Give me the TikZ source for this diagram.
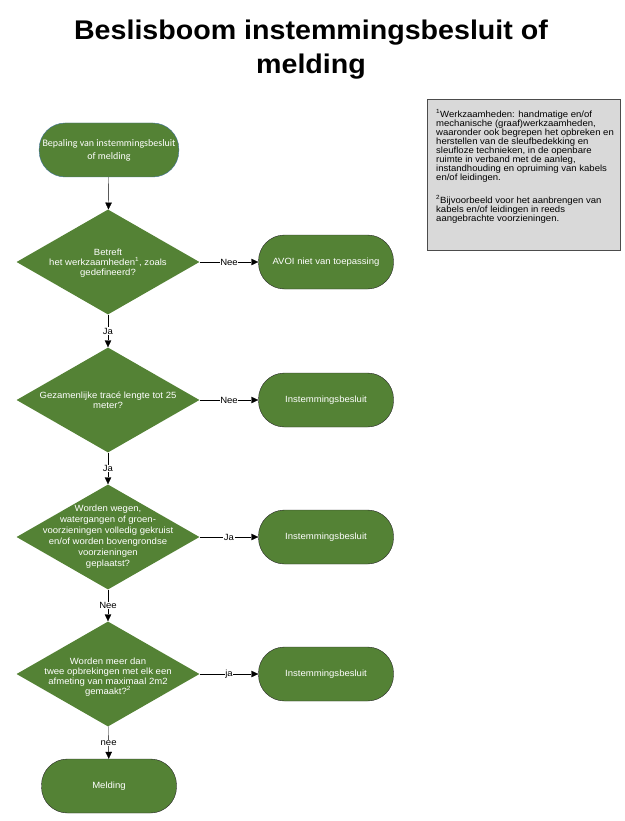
\documentclass[tikz,border=0pt]{standalone}
\usepackage{fontspec}
\setmainfont[FakeStretch=1.06]{Liberation Sans}
\newfontfamily\calibri{Carlito}
\usetikzlibrary{arrows.meta,shapes.geometric,shadows}
\definecolor{boxgreen}{RGB}{84,130,53}
\definecolor{startblue}{RGB}{65,113,156}
\definecolor{notegray}{RGB}{217,217,217}

\begin{document}
\begin{tikzpicture}[x=1pt,y=-1pt,>={Triangle[length=7pt,width=6.5pt]},
	decision/.style={shape=diamond,fill=boxgreen,minimum width=183pt,minimum height=105pt,inner sep=0pt},
	qtext/.style={text=white,align=center,font=\fontsize{9}{10}\selectfont},
	terminal/.style={shape=rectangle,rounded corners=26pt,fill=boxgreen,draw=black!85,minimum width=135pt,minimum height=54pt,text=white,align=center,font=\fontsize{9}{10}\selectfont},
	answer/.style={fill=white,inner sep=0.6pt,font=\fontsize{9}{10}\selectfont}]
	\useasboundingbox (0,0) rectangle (624,821);

	\node (title) [align=center,anchor=north,font=\fontsize{27}{34}\selectfont\bfseries] at (311,16) {Beslisboom instemmingsbesluit of\\melding};

	% start
	\node (start) [terminal,draw=startblue,font=\calibri\fontsize{10}{13}\selectfont] at (109,150) {Bepaling van instemmingsbesluit\\of melding};

	% vragen
	\node (q1) [decision] at (108,262) {};
	\node (q1text) [qtext] at (108,263) {Betreft\\het werkzaamheden\textsuperscript{1}, zoals\\gedefineerd?};
	\node (q2) [decision] at (108,400) {};
	\node (q2text) [qtext] at (q2) {Gezamenlijke trac\'e lengte tot 25\\meter?};
	\node (q3) [decision] at (108,537) {};
	\node (q3text) [qtext,font=\fontsize{9}{11}\selectfont] at (q3) {Worden wegen,\\watergangen of groen-\\voorzieningen volledig gekruist\\en/of worden bovengrondse\\voorzieningen\\geplaatst?};
	\node (q4) [decision] at (108,674) {};
	\node (q4text) [qtext] at (108,677) {Worden meer dan\\twee opbrekingen met elk een\\afmeting van maximaal 2m2\\gemaakt?\textsuperscript{2}};

	% uitkomsten
	\node (r1) [terminal] at (326,262) {AVOI niet van toepassing};
	\node (r2) [terminal] at (326,400) {Instemmingsbesluit};
	\node (r3) [terminal] at (326,537) {Instemmingsbesluit};
	\node (r4) [terminal] at (326,674) {Instemmingsbesluit};
	\node (end) [terminal] at (109,786) {Melding};

	% voetnoten
	\node (note) [shape=rectangle,draw=black!70,fill=notegray,line width=0.8pt,minimum width=193pt,minimum height=151pt,anchor=north west,
		drop shadow={shadow xshift=1pt,shadow yshift=-1pt,fill=black!60,opacity=1}] at (427,99) {};
	\node (notetext) [anchor=north west,inner sep=0pt,align=left,font=\fontsize{9}{9}\selectfont] at (436,109) {\textsuperscript{1}Werkzaamheden: handmatige en/of\\mechanische (graaf)werkzaamheden,\\waaronder ook begrepen het opbreken en\\herstellen van de sleufbedekking en\\sleufloze technieken, in de openbare\\ruimte in verband met de aanleg,\\instandhouding en opruiming van kabels\\en/of leidingen.\\[12pt]\textsuperscript{2}Bijvoorbeeld voor het aanbrengen van\\kabels en/of leidingen in reeds\\aangebrachte voorzieningen.};

	% verbindingen
	\draw[->] (start) -- (q1);
	\path[->] (q1) edge node[answer] {Nee} (r1);
	\path[->] (q1) edge node[answer] {Ja} (q2);
	\path[->] (q2) edge node[answer] {Nee} (r2);
	\path[->] (q2) edge node[answer] {Ja} (q3);
	\path[->] (q3) edge node[answer] {Ja} (r3);
	\path[->] (q3) edge node[answer] {Nee} (q4);
	\path[->] (q4) edge node[answer] {ja} (r4);
	\path[->] (q4) edge node[answer] {nee} (end);
\end{tikzpicture}
\end{document}
